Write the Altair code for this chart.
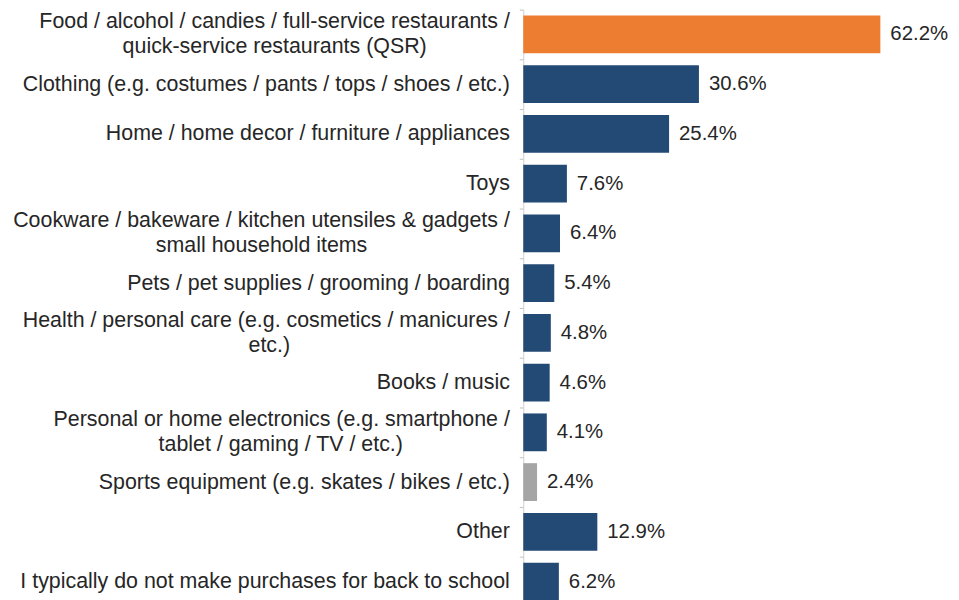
import altair as alt
import pandas as pd

line1 = [
    "Food / alcohol / candies / full-service restaurants /",
    "Clothing (e.g. costumes / pants / tops / shoes / etc.)",
    "Home / home decor / furniture / appliances",
    "Toys",
    "Cookware / bakeware / kitchen utensiles & gadgets /",
    "Pets / pet supplies / grooming / boarding",
    "Health / personal care (e.g. cosmetics / manicures /",
    "Books / music",
    "Personal or home electronics (e.g. smartphone /",
    "Sports equipment (e.g. skates / bikes / etc.)",
    "Other",
    "I typically do not make purchases for back to school",
]
line2 = [
    "quick-service restaurants (QSR)",
    "",
    "",
    "",
    "small household items",
    "",
    "etc.)",
    "",
    "tablet / gaming / TV / etc.)",
    "",
    "",
    "",
]
values = [62.2, 30.6, 25.4, 7.6, 6.4, 5.4, 4.8, 4.6, 4.1, 2.4, 12.9, 6.2]

ORANGE = "#ED7D31"
NAVY = "#234A75"
GRAY = "#A5A5A5"
bar_colors = [ORANGE] + [NAVY] * 8 + [GRAY] + [NAVY] * 2

# approximate Arial advance widths (per 1000 em) used to centre second lines
_W = {" ": 278, "/": 278, "(": 333, ")": 333, ".": 278, "-": 333, "&": 667, "%": 889,
      "a": 556, "b": 556, "c": 500, "d": 556, "e": 556, "f": 278, "g": 556, "h": 556,
      "i": 222, "j": 222, "k": 500, "l": 222, "m": 833, "n": 556, "o": 556, "p": 556,
      "q": 556, "r": 333, "s": 500, "t": 278, "u": 556, "v": 500, "w": 722, "x": 500,
      "y": 500, "z": 500, "C": 722, "F": 611, "H": 722, "B": 667, "P": 667, "S": 667,
      "T": 611, "Q": 778, "R": 722, "I": 278, "O": 778, "V": 667}


def _width(s):
    return sum(_W.get(ch, 556) for ch in s)


categories = []
for a, b in zip(line1, line2):
    if b:
        n = round((_width(a) - _width(b)) / 2 / 278)
        # trailing no-break spaces (kept from trimming by a zero-width space) centre line 2
        categories.append(a + "|" + b + "\u00a0" * max(n, 0) + "\u200b")
    else:
        categories.append(a)

df = pd.DataFrame({"category": categories, "value": values})

FONT = "Liberation Sans"
TEXT = "#262626"
LH = 25
TICK_SHIFT = -6  # ticks sit midway between bars

y_enc = alt.Y(
    "category:N",
    sort=None,
    title=None,
    scale=alt.Scale(paddingInner=0.24, paddingOuter=0.12),
    axis=alt.Axis(
        labelExpr="split(datum.value, '|')",
        labelFont=FONT,
        labelFontSize=21.5,
        labelLineHeight=LH,
        labelColor=TEXT,
        labelAlign="right",
        labelBaseline="middle",
        labelPadding=10,
        labelLimit=0,
        labelOffset={
            "condition": {"test": "indexof(datum.value, '|') >= 0", "value": -LH / 2 - TICK_SHIFT},
            "value": -TICK_SHIFT,
        },
        bandPosition=0,
        tickOffset=TICK_SHIFT,
        tickSize=4,
        tickColor="#bfbfbf",
        domainColor="#d0d0d0",
        grid=False,
    ),
)

x_enc = alt.X("value:Q", scale=alt.Scale(domain=[0, 70]), axis=None)

bars = alt.Chart(df).mark_bar().encode(
    y=y_enc,
    x=x_enc,
    color=alt.Color(
        "category:N",
        scale=alt.Scale(domain=categories, range=bar_colors),
        legend=None,
    ),
)

labels = (
    alt.Chart(df)
    .transform_calculate(txt="format(datum.value, '.1f') + '%'")
    .mark_text(align="left", baseline="middle", dx=10, font=FONT, fontSize=20.5, color=TEXT)
    .encode(y=alt.Y("category:N", sort=None), x="value:Q", text="txt:N")
)

chart = (
    alt.layer(bars, labels)
    .properties(
        width=404,
        height=600,
        autosize=alt.AutoSizeParams(type="none"),
        padding={"left": 518, "top": 0, "right": 26, "bottom": 0},
    )
    .configure_view(stroke=None)
)

chart.save("out.html", embed_options={"renderer": "svg", "actions": False})
